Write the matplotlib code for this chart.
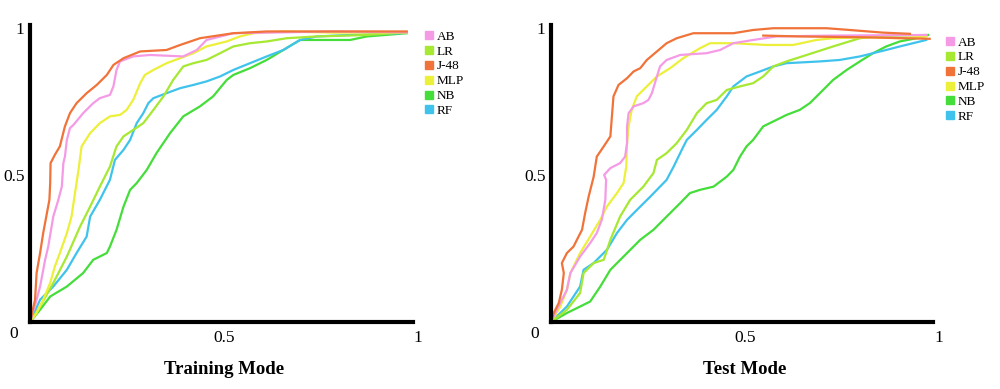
import matplotlib.pyplot as plt
from matplotlib.lines import Line2D

# ROC curves (FPR, TPR)
models = ['AB', 'LR', 'J-48', 'MLP', 'NB', 'RF']
colors = ['#f59be6', '#a6e832', '#f0733a', '#ecf03a', '#45dd3a', '#3fc3ec']

train_ab_x = [0, 0.017, 0.026, 0.039, 0.047, 0.060, 0.073, 0.082, 0.086, 0.090, 0.095, 0.103, 0.112, 0.137, 0.163, 0.180, 0.206, 0.215, 0.223, 0.232, 0.266, 0.309, 0.395, 0.430, 0.455, 0.524, 0.782, 0.971]
train_ab_y = [0, 0.076, 0.121, 0.212, 0.257, 0.359, 0.416, 0.461, 0.541, 0.563, 0.620, 0.660, 0.671, 0.711, 0.745, 0.762, 0.773, 0.802, 0.858, 0.887, 0.904, 0.909, 0.904, 0.926, 0.960, 0.983, 0.989, 0.986]
train_lr_x = [0, 0.026, 0.060, 0.095, 0.129, 0.155, 0.180, 0.206, 0.223, 0.241, 0.266, 0.292, 0.318, 0.344, 0.369, 0.395, 0.421, 0.455, 0.490, 0.524, 0.567, 0.610, 0.662, 0.739, 0.868, 0.971]
train_lr_y = [0, 0.053, 0.133, 0.223, 0.325, 0.393, 0.461, 0.529, 0.598, 0.632, 0.654, 0.677, 0.722, 0.768, 0.824, 0.870, 0.881, 0.892, 0.915, 0.938, 0.949, 0.955, 0.966, 0.972, 0.977, 0.986]
train_j48_x = [0, 0.013, 0.017, 0.026, 0.034, 0.050, 0.052, 0.053, 0.064, 0.077, 0.090, 0.103, 0.120, 0.146, 0.172, 0.198, 0.215, 0.241, 0.284, 0.352, 0.387, 0.438, 0.524, 0.610, 0.782, 0.971]
train_j48_y = [0, 0.076, 0.167, 0.235, 0.303, 0.416, 0.473, 0.541, 0.569, 0.598, 0.666, 0.711, 0.745, 0.779, 0.807, 0.841, 0.875, 0.898, 0.921, 0.926, 0.943, 0.966, 0.983, 0.989, 0.989, 0.989]
train_mlp_x = [0, 0.017, 0.034, 0.052, 0.064, 0.077, 0.095, 0.107, 0.116, 0.125, 0.133, 0.155, 0.180, 0.206, 0.232, 0.249, 0.266, 0.284, 0.296, 0.318, 0.352, 0.387, 0.421, 0.455, 0.507, 0.541, 0.576, 0.653, 0.782, 0.971]
train_mlp_y = [0, 0.031, 0.076, 0.133, 0.189, 0.235, 0.303, 0.359, 0.439, 0.518, 0.598, 0.643, 0.677, 0.700, 0.705, 0.722, 0.756, 0.813, 0.841, 0.858, 0.881, 0.898, 0.915, 0.938, 0.955, 0.972, 0.983, 0.989, 0.985, 0.986]
train_nb_x = [0, 0.026, 0.052, 0.095, 0.137, 0.163, 0.198, 0.206, 0.223, 0.241, 0.258, 0.275, 0.301, 0.326, 0.361, 0.395, 0.438, 0.472, 0.507, 0.524, 0.567, 0.610, 0.653, 0.696, 0.825, 0.868, 0.971]
train_nb_y = [0, 0.042, 0.087, 0.121, 0.167, 0.212, 0.235, 0.257, 0.314, 0.393, 0.450, 0.473, 0.518, 0.575, 0.643, 0.700, 0.734, 0.768, 0.824, 0.841, 0.864, 0.892, 0.926, 0.960, 0.960, 0.972, 0.983]
train_rf_x = [0, 0.026, 0.060, 0.095, 0.120, 0.146, 0.155, 0.180, 0.206, 0.219, 0.241, 0.258, 0.275, 0.292, 0.305, 0.318, 0.352, 0.387, 0.421, 0.455, 0.490, 0.524, 0.567, 0.610, 0.653, 0.696, 0.739, 0.825, 0.954]
train_rf_y = [0, 0.076, 0.121, 0.178, 0.235, 0.291, 0.359, 0.416, 0.484, 0.552, 0.586, 0.620, 0.677, 0.711, 0.745, 0.762, 0.779, 0.796, 0.807, 0.819, 0.836, 0.858, 0.881, 0.904, 0.926, 0.960, 0.972, 0.977, 0.983]

test_ab_x = [0, 0.015, 0.041, 0.050, 0.075, 0.101, 0.118, 0.131, 0.140, 0.142, 0.137, 0.153, 0.178, 0.191, 0.196, 0.196, 0.200, 0.213, 0.238, 0.251, 0.260, 0.273, 0.281, 0.298, 0.333, 0.401, 0.436, 0.470, 0.521, 0.581, 0.727, 0.967]
test_ab_y = [0, 0.042, 0.110, 0.167, 0.223, 0.269, 0.303, 0.348, 0.416, 0.484, 0.501, 0.524, 0.541, 0.563, 0.609, 0.666, 0.711, 0.734, 0.745, 0.756, 0.779, 0.836, 0.870, 0.892, 0.909, 0.915, 0.926, 0.949, 0.960, 0.972, 0.975, 0.977]
test_lr_x = [0, 0.041, 0.075, 0.084, 0.110, 0.136, 0.153, 0.178, 0.204, 0.238, 0.264, 0.273, 0.298, 0.324, 0.350, 0.376, 0.401, 0.427, 0.453, 0.487, 0.521, 0.547, 0.573, 0.607, 0.659, 0.727, 0.796, 0.856, 0.967]
test_lr_y = [0, 0.042, 0.099, 0.167, 0.201, 0.212, 0.280, 0.359, 0.416, 0.461, 0.507, 0.552, 0.575, 0.609, 0.654, 0.711, 0.745, 0.756, 0.790, 0.802, 0.813, 0.836, 0.870, 0.887, 0.909, 0.938, 0.966, 0.974, 0.977]
test_j48_x = [0, 0.007, 0.020, 0.028, 0.033, 0.028, 0.041, 0.058, 0.071, 0.080, 0.088, 0.097, 0.110, 0.118, 0.136, 0.153, 0.157, 0.161, 0.174, 0.196, 0.213, 0.230, 0.247, 0.273, 0.298, 0.324, 0.367, 0.470, 0.521, 0.573, 0.710, 0.770, 0.856, 0.925]
test_j48_y = [0, 0.031, 0.065, 0.110, 0.167, 0.201, 0.235, 0.257, 0.291, 0.314, 0.371, 0.427, 0.495, 0.563, 0.598, 0.632, 0.700, 0.768, 0.807, 0.830, 0.853, 0.864, 0.892, 0.921, 0.949, 0.966, 0.983, 0.983, 0.994, 1.000, 1.000, 0.994, 0.985, 0.981]
test_j48_tail_x = [0.547, 0.641, 0.813, 0.976]
test_j48_tail_y = [0.975, 0.972, 0.969, 0.964]
test_mlp_x = [0, 0.024, 0.041, 0.050, 0.075, 0.101, 0.127, 0.144, 0.170, 0.187, 0.194, 0.196, 0.200, 0.208, 0.221, 0.247, 0.273, 0.307, 0.341, 0.384, 0.410, 0.470, 0.556, 0.624, 0.684, 0.727, 0.813, 0.899, 0.967]
test_mlp_y = [0, 0.053, 0.110, 0.167, 0.235, 0.291, 0.348, 0.393, 0.439, 0.473, 0.529, 0.609, 0.666, 0.722, 0.768, 0.802, 0.836, 0.864, 0.898, 0.932, 0.949, 0.949, 0.943, 0.943, 0.960, 0.966, 0.969, 0.966, 0.972]
test_nb_x = [0, 0.041, 0.075, 0.101, 0.127, 0.153, 0.187, 0.230, 0.264, 0.298, 0.333, 0.358, 0.384, 0.419, 0.453, 0.470, 0.487, 0.504, 0.521, 0.547, 0.581, 0.607, 0.641, 0.667, 0.693, 0.727, 0.762, 0.796, 0.830, 0.864, 0.899, 0.942, 0.972]
test_nb_y = [0, 0.031, 0.053, 0.070, 0.121, 0.178, 0.223, 0.280, 0.314, 0.359, 0.405, 0.439, 0.450, 0.461, 0.495, 0.518, 0.563, 0.598, 0.620, 0.666, 0.688, 0.705, 0.722, 0.745, 0.779, 0.824, 0.858, 0.887, 0.915, 0.938, 0.955, 0.966, 0.977]
test_rf_x = [0, 0.041, 0.075, 0.084, 0.110, 0.144, 0.170, 0.196, 0.230, 0.256, 0.281, 0.298, 0.316, 0.337, 0.350, 0.376, 0.401, 0.427, 0.453, 0.470, 0.504, 0.539, 0.573, 0.607, 0.693, 0.744, 0.796, 0.830, 0.864, 0.899, 0.967]
test_rf_y = [0, 0.053, 0.121, 0.178, 0.201, 0.246, 0.303, 0.348, 0.393, 0.427, 0.461, 0.484, 0.529, 0.586, 0.620, 0.654, 0.688, 0.722, 0.768, 0.802, 0.836, 0.853, 0.870, 0.881, 0.887, 0.892, 0.904, 0.915, 0.926, 0.938, 0.960]

train = [(train_ab_x, train_ab_y), (train_lr_x, train_lr_y), (train_j48_x, train_j48_y),
         (train_mlp_x, train_mlp_y), (train_nb_x, train_nb_y), (train_rf_x, train_rf_y)]
test = [(test_ab_x, test_ab_y), (test_lr_x, test_lr_y), (test_j48_x, test_j48_y),
        (test_mlp_x, test_mlp_y), (test_nb_x, test_nb_y), (test_rf_x, test_rf_y)]

serif = 'Liberation Serif'
# draw order: lowest curves first so top ones sit on top
order = [4, 5, 1, 3, 0, 2]

fig = plt.figure(figsize=(10, 3.89), dpi=100)
ax1 = fig.add_axes([0.030, 0.172, 0.388, 0.763])
ax2 = fig.add_axes([0.551, 0.172, 0.388, 0.763])


def draw(ax, curves, title, xend, leg_y, extra=None):
    for i in order:
        xs, ys = curves[i]
        ax.plot(xs, ys, color=colors[i], lw=1.6, solid_joinstyle='round')
    if extra is not None:
        ax.plot(extra[0], extra[1], color=colors[2], lw=1.6)
    ax.set_xlim(0, 1)
    ax.set_ylim(0, 1.01)
    for s in ['top', 'right']:
        ax.spines[s].set_visible(False)
    ax.spines['left'].set_linewidth(3)
    ax.spines['bottom'].set_linewidth(3)
    ax.spines['bottom'].set_bounds(0, xend)
    ax.set_xticks([0.5, 1])
    ax.set_xticklabels(['0.5', '1'])
    ax.set_yticks([0.5, 1])
    ax.set_yticklabels(['0.5', '1'])
    ax.tick_params(length=0, labelsize=12.5)
    ax.tick_params(axis='y', pad=4)
    ax.tick_params(axis='x', pad=6)
    for lab in ax.get_xticklabels() + ax.get_yticklabels():
        lab.set_family(serif)
    ax.text(-0.03, -0.04, '0', transform=ax.transAxes, ha='right', va='center',
            fontsize=12.5, family=serif)
    ax.text(0.5, -0.16, title, transform=ax.transAxes, ha='center', va='center',
            fontsize=13.5, fontweight='bold', family=serif)
    handles = [Line2D([], [], ls='none', marker='s', ms=6, color=c) for c in colors]
    ax.legend(handles, models, loc='upper left', bbox_to_anchor=(1.0, leg_y),
              frameon=False, prop={'family': serif, 'size': 9.5}, handlelength=0.6,
              handletextpad=0.3, labelspacing=0.2, borderpad=0, borderaxespad=0.5)


draw(ax1, train, 'Training Mode', 0.987, 1.005)
draw(ax2, test, 'Test Mode', 0.985, 0.985, extra=(test_j48_tail_x, test_j48_tail_y))

fig.savefig('out.png', dpi=100)
